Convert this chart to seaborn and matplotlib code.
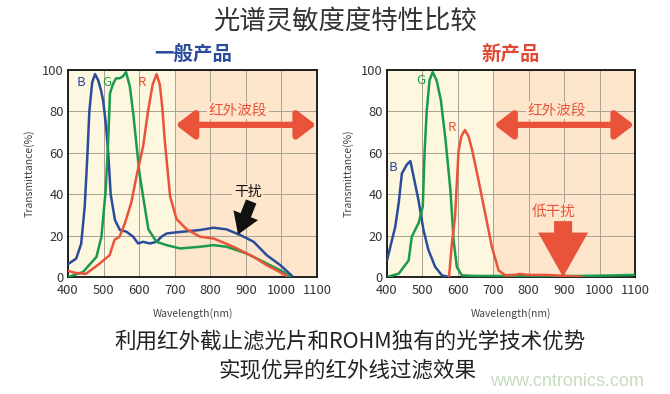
import matplotlib
matplotlib.use("Agg")
import matplotlib.pyplot as plt
import seaborn as sns
import pandas as pd
from matplotlib.patches import FancyArrowPatch

# general product (left)
wl_b1 = [400, 423, 437, 447, 454, 460, 468, 476, 485, 493, 499, 507, 513, 520, 532, 546, 564, 583, 597,
         611, 630, 649, 663, 677, 700, 730, 771, 809, 846, 884, 922, 959, 997, 1030]
val_b1 = [6.2, 8.9, 16, 34, 57, 80, 94, 98, 95, 90, 85, 73, 60, 40, 27.5, 22.7, 21.9, 19.5, 16.2,
          17, 16.2, 17, 19.5, 21, 21.5, 22, 22.7, 23.8, 23, 20.3, 17, 10.5, 5.7, 0.5]
wl_g1 = [400, 442, 480, 494, 506, 513, 518, 526, 535, 545, 555, 563, 574, 584, 593, 601, 611, 626,
         649, 677, 715, 771, 809, 846, 903, 959, 1006, 1025]
val_g1 = [0, 2.4, 9.7, 19.5, 42, 66, 88.7, 93, 96, 96, 97, 99, 92, 78, 63, 50, 39, 23,
          17, 15.4, 13.8, 14.6, 15.4, 14.6, 11.3, 6.5, 2.4, 0]
wl_r1 = [400, 420, 450, 489, 517, 531, 545, 560, 578, 593, 611, 625, 638, 649, 658, 665, 672, 687,
         705, 734, 771, 809, 865, 922, 959, 1016]
val_r1 = [3, 2, 1.5, 6.5, 10.5, 18, 19.5, 26, 36, 49, 63, 80, 93, 98, 93, 82, 66, 39,
          28, 23, 19.5, 18.6, 14.6, 9.7, 5.7, 0.5]

# new product (right)
wl_b2 = [400, 414, 423, 433, 442, 456, 466, 475, 489, 503, 517, 536, 555, 575]
val_b2 = [8, 17.8, 24, 35.7, 50, 54.3, 56, 48.6, 37, 22.7, 13, 4.9, 0.8, 0]
wl_g2 = [400, 433, 461, 470, 489, 501, 506, 512, 520, 529, 540, 552, 565, 579, 588, 597, 611,
         650, 750, 850, 950, 1050, 1100]
val_g2 = [0, 1.6, 8, 19.5, 26, 34, 60, 80, 95, 99, 95, 85.5, 66.5, 42, 17.8, 4.9, 0.8,
          0.5, 0.5, 0.5, 0.5, 0.8, 1]
wl_r2 = [575, 583, 592, 602, 610, 620, 630, 640, 658, 677, 696, 715, 734, 760, 775, 800, 850, 900, 950]
val_r2 = [0, 16, 29, 61, 68, 71, 68, 61.6, 47, 30.8, 14.6, 3.2, 0.8, 1, 1.5, 1, 1, 0.5, 0]

x_ticks = [400, 500, 600, 700, 800, 900, 1000, 1100]
y_ticks = [0, 20, 40, 60, 80, 100]

BLUE = "#2b4c9b"
GREEN = "#1c9a4c"
RED = "#e8533a"
CREAM = "#fdf7e0"
PEACH = "#fde6cc"

sns.set_style("white")
plt.rcParams["font.family"] = ["Noto Sans CJK SC", "DejaVu Sans"]

fig = plt.figure(figsize=(6.7, 3.94), dpi=100)
ax1 = fig.add_axes([68 / 670, 117 / 394, 249 / 670, 207 / 394])
ax2 = fig.add_axes([387 / 670, 117 / 394, 248 / 670, 207 / 394])


def draw(ax, curves):
    ax.set_facecolor(CREAM)
    ax.axvspan(400, 700, color=CREAM, zorder=0.1, lw=0)
    ax.axvspan(700, 1100, color=PEACH, zorder=0.1, lw=0)
    for wl, val, c in curves:
        df = pd.DataFrame({"wl": wl, "val": val})
        sns.lineplot(data=df, x="wl", y="val", color=c, lw=1.8, ax=ax, zorder=3)
    ax.set_xlim(400, 1100)
    ax.set_ylim(0, 100)
    ax.set_xticks(x_ticks)
    ax.set_yticks(y_ticks)
    ax.set_axisbelow(True)
    ax.grid(True, color="#a9a192", lw=0.7)
    ax.tick_params(length=0, labelsize=9.3, colors="#333333")
    ax.tick_params(axis="x", pad=5)
    ax.tick_params(axis="y", pad=3)
    for s in ax.spines.values():
        s.set_color("#111111")
        s.set_linewidth(1.3)
    ax.set_xlabel("Wavelength(nm)", fontsize=7.5, color="#444444", labelpad=8)
    ax.set_ylabel("Transmittance(%)", fontsize=7.5, color="#444444", labelpad=5)
    # infrared band arrow
    ax.add_patch(FancyArrowPatch((703, 73.5), (1097, 73.5),
                                 arrowstyle="<|-|>,head_length=0.55,head_width=0.42",
                                 mutation_scale=20, lw=4.5, color=RED, zorder=5,
                                 shrinkA=0, shrinkB=0))
    ax.text(878, 80.5, "红外波段", color=RED, fontsize=10.5, ha="center", va="center", zorder=4,
            bbox=dict(facecolor=PEACH, edgecolor="none", pad=1))


draw(ax1, [(wl_b1, val_b1, BLUE), (wl_g1, val_g1, GREEN), (wl_r1, val_r1, RED)])
draw(ax2, [(wl_b2, val_b2, BLUE), (wl_g2, val_g2, GREEN), (wl_r2, val_r2, RED)])

for ax, pts in [(ax1, [("B", 436, 94, BLUE), ("G", 509, 94, GREEN), ("R", 607, 94, RED)]),
                (ax2, [("G", 496, 95, GREEN), ("R", 583, 72, RED), ("B", 418, 53, BLUE)])]:
    for t, x, y, c in pts:
        ax.text(x, y, t, color=c, fontsize=9.5, ha="center", va="center", zorder=4)

# interference annotations
ax1.text(905, 41, "干扰", color="#111111", fontsize=10, ha="center", va="center", zorder=4,
         bbox=dict(facecolor=PEACH, edgecolor="none", pad=1))
ax1.add_patch(FancyArrowPatch((915, 36.5), (878, 20.5),
                              arrowstyle="simple,head_width=1.9,head_length=1.5,tail_width=0.8",
                              mutation_scale=10, color="#111111", lw=0, zorder=5,
                              shrinkA=0, shrinkB=0))
ax2.text(869, 31.5, "低干扰", color=RED, fontsize=10.5, ha="center", va="center", zorder=4,
         bbox=dict(facecolor=PEACH, edgecolor="none", pad=1))
ax2.add_patch(FancyArrowPatch((897, 27), (897, 0),
                              arrowstyle="simple,head_width=3.6,head_length=3.2,tail_width=1.3",
                              mutation_scale=10, color=RED, lw=0, zorder=5,
                              shrinkA=0, shrinkB=0))

# titles and captions
fig.text(345 / 670, 1 - 22 / 394, "光谱灵敏度度特性比较", fontsize=19, color="#333333",
         ha="center", va="center")
fig.text(193 / 670, 1 - 55 / 394, "一般产品", fontsize=14, color=BLUE, fontweight="bold",
         ha="center", va="center")
fig.text(511 / 670, 1 - 55 / 394, "新产品", fontsize=14, color="#e04a35", fontweight="bold",
         ha="center", va="center")
fig.text(350 / 670, 1 - 341 / 394, "利用红外截止滤光片和ROHM独有的光学技术优势", fontsize=15.5,
         color="#222222", ha="center", va="center")
fig.text(347 / 670, 1 - 370 / 394, "实现优异的红外线过滤效果", fontsize=15.5,
         color="#222222", ha="center", va="center")
fig.text(567 / 670, 1 - 381 / 394, "www.cntronics.com", fontsize=13, color="#c5dcc0",
         family="Liberation Sans", ha="center", va="center")

fig.savefig("out.png", dpi=100)
